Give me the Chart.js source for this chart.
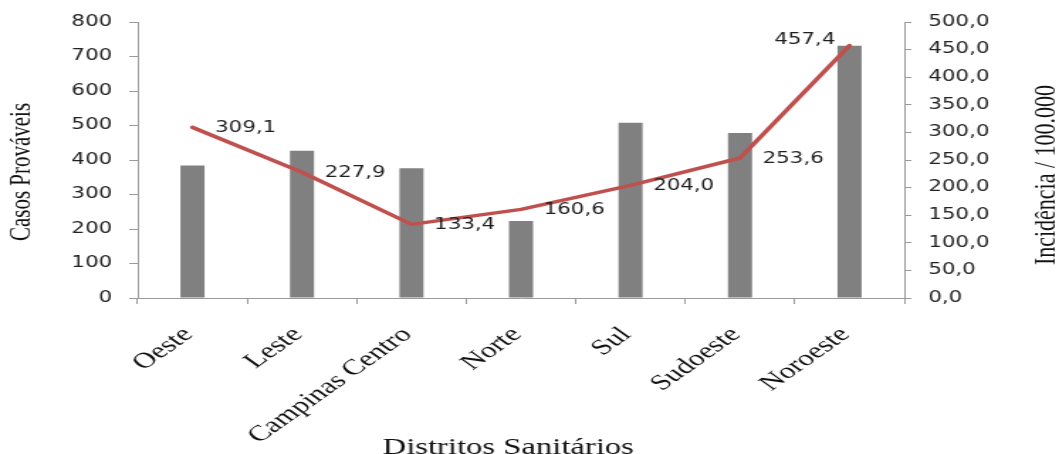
<!DOCTYPE html>
<html lang="pt">
<head>
<meta charset="UTF-8">
<title>Casos Prováveis e Incidência por Distrito Sanitário</title>
<script src="https://cdn.jsdelivr.net/npm/chart.js"></script>
<style>
  html, body { margin: 0; padding: 0; background: #fff; overflow: hidden; }
  /* chart is drawn narrow and stretched sideways to get the wide glyphs */
  #wrap { width: 746px; height: 454px; transform: scaleX(1.4196); transform-origin: 0 0; }
</style>
</head>
<body>
<div id="wrap"><canvas id="chart"></canvas></div>
<script>
// districts and their values
const districts = ['Oeste', 'Leste', 'Campinas Centro', 'Norte', 'Sul', 'Sudoeste', 'Noroeste'];
const probableCases = [384, 427, 376, 223, 508, 478, 731];
const incidence = [309.1, 227.9, 133.4, 160.6, 204.0, 253.6, 457.4];

const leftTitle = 'Casos Prováveis';
const rightTitle = 'Incidência / 100.000';
const bottomTitle = 'Distritos Sanitários';

const axisGray = '#9a9a9a';
const sansFont = { family: 'DejaVu Sans', size: 15 };
const serifFamily = 'Liberation Serif';

const fmt = v => v.toFixed(1).replace('.', ',');

// value labels next to each point of the line
const lineLabels = {
    id: 'lineLabels',
    afterDatasetsDraw(chart) {
        const ctx = chart.ctx;
        const meta = chart.getDatasetMeta(1);
        ctx.save();
        ctx.font = '15px "DejaVu Sans"';
        ctx.fillStyle = '#1e1e1e';
        ctx.textBaseline = 'middle';
        meta.data.forEach((pt, i) => {
            const last = i === meta.data.length - 1;
            ctx.textAlign = last ? 'right' : 'left';
            const x = last ? pt.x - 10 : pt.x + 16;
            const y = last ? pt.y - 5 : pt.y + 1;
            ctx.fillText(fmt(incidence[i]), x, y);
        });
        ctx.restore();
    }
};

// axis titles (right one reads bottom to top like the left one)
const axisTitles = {
    id: 'axisTitles',
    afterDraw(chart) {
        const ctx = chart.ctx;
        ctx.save();
        ctx.fillStyle = '#111';
        ctx.textAlign = 'center';
        ctx.textBaseline = 'middle';
        ctx.font = `21px "${serifFamily}"`;
        ctx.save();
        ctx.translate(15, 172);
        ctx.rotate(-Math.PI / 2);
        ctx.fillText(leftTitle, 0, 0);
        ctx.restore();
        ctx.font = `22px "${serifFamily}"`;
        ctx.save();
        ctx.translate(737, 175);
        ctx.rotate(-Math.PI / 2);
        ctx.fillText(rightTitle, 0, 0);
        ctx.restore();
        ctx.font = `23px "${serifFamily}"`;
        ctx.textBaseline = 'alphabetic';
        ctx.fillText(bottomTitle, 358, 454);
        ctx.restore();
    }
};

new Chart(document.getElementById('chart'), {
    type: 'bar',
    data: {
        labels: districts,
        datasets: [
            {
                type: 'bar',
                label: leftTitle,
                data: probableCases,
                backgroundColor: '#808080',
                yAxisID: 'y',
                categoryPercentage: 1,
                barPercentage: 0.22,
                order: 1
            },
            {
                type: 'line',
                label: rightTitle,
                data: incidence,
                borderColor: '#c0504d',
                borderWidth: 3.5,
                borderCapStyle: 'round',
                borderJoinStyle: 'round',
                pointRadius: 0,
                tension: 0,
                yAxisID: 'y1',
                order: 0
            }
        ]
    },
    options: {
        responsive: true,
        maintainAspectRatio: false,
        animation: false,
        layout: { padding: { top: 22, left: 0, right: 0, bottom: 0 } },
        plugins: { legend: { display: false }, tooltip: { enabled: false } },
        scales: {
            x: {
                grid: { drawOnChartArea: false, color: axisGray, tickLength: 6, offset: true },
                border: { color: axisGray },
                ticks: {
                    minRotation: 45, maxRotation: 45, autoSkip: false, padding: 18, labelOffset: -3,
                    color: '#111', font: { family: serifFamily, size: 22 }
                },
                afterFit(scale) { scale.height = 156; }
            },
            y: {
                position: 'left',
                min: 0, max: 800,
                grid: { drawOnChartArea: false, color: axisGray, tickLength: 6 },
                border: { color: axisGray },
                ticks: { stepSize: 100, padding: 12, color: '#222', font: sansFont },
                afterFit(scale) { scale.width = 97; }
            },
            y1: {
                position: 'right',
                min: 0, max: 500,
                grid: { drawOnChartArea: false, color: axisGray, tickLength: 5 },
                border: { color: axisGray },
                ticks: { stepSize: 50, padding: 12, color: '#222', font: sansFont, callback: v => fmt(v) },
                afterFit(scale) { scale.width = 109; }
            }
        }
    },
    plugins: [lineLabels, axisTitles]
});
</script>
</body>
</html>
